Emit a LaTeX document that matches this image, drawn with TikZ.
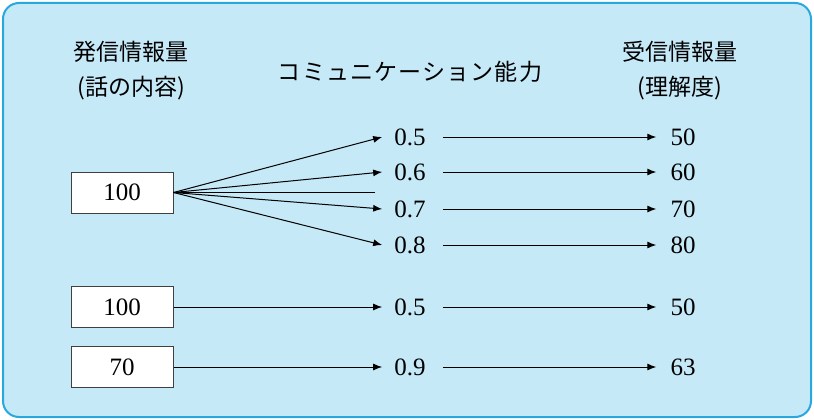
\documentclass[tikz,border=0pt]{standalone}
\usepackage{fontspec}
\setmainfont{Liberation Serif}
\newfontfamily\cjk{Noto Sans CJK JP}
\newfontfamily\cjkwide[LetterSpace=5]{Noto Sans CJK JP}
\usetikzlibrary{arrows.meta}
\definecolor{bgfill}{HTML}{C6E9F8}
\definecolor{bgline}{HTML}{29A8E0}
\begin{document}
\begin{tikzpicture}[x=1pt,y=-1pt,
  head/.style={font=\cjk\fontsize{23}{27}\selectfont, inner sep=0pt},
  valbox/.style={draw=black!75, fill=white, line width=1pt, minimum width=102pt, minimum height=41pt, inner sep=0pt, font=\fontsize{25}{29}\selectfont},
  cnum/.style={inner xsep=12pt, inner ysep=2pt, font=\fontsize{25}{29}\selectfont},
  rnum/.style={inner xsep=14pt, inner ysep=2pt, font=\fontsize{25}{29}\selectfont},
  arr/.style={line width=1pt, -{Latex[length=9pt,width=7pt]}},
  ln/.style={line width=1pt}]
\useasboundingbox (0,0) rectangle (814,420);
\draw[bgline, fill=bgfill, line width=2pt, rounded corners=16pt] (3,3) rectangle (811,417);
% headings
\node[head] (h1) at (131,52) {発信情報量};
\node[head] (h2) at (131,88) {(話の内容)};
\node[head, font=\cjkwide\fontsize{23}{27}\selectfont] (h3) at (410,72) {コミュニケーション能力};
\node[head] (h4) at (680,52) {受信情報量};
\node[head] (h5) at (680,88) {(理解度)};
% boxes
\node[valbox] (b1) at (122,192.5) {100};
\node[valbox] (b2) at (122,307) {100};
\node[valbox] (b3) at (122,367) {70};
% capability values
\node[cnum] (c1) at (410,137) {0.5};
\node[cnum] (c2) at (410,172) {0.6};
\node[cnum] (c3) at (410,209) {0.7};
\node[cnum] (c4) at (410,245) {0.8};
\node[cnum] (c5) at (410,307) {0.5};
\node[cnum] (c6) at (410,367) {0.9};
% results
\node[rnum] (r1) at (683,137) {50};
\node[rnum] (r2) at (683,172) {60};
\node[rnum] (r3) at (683,209) {70};
\node[rnum] (r4) at (683,245) {80};
\node[rnum] (r5) at (683,307) {50};
\node[rnum] (r6) at (683,367) {63};
\coordinate (m) at (375,192.5);
% fan
\draw[arr] (b1.east) -- (c1.west);
\draw[arr] (b1.east) -- (c2.west);
\draw[ln] (b1.east) -- (m);
\draw[arr] (b1.east) -- (c3.west);
\draw[arr] (b1.east) -- (c4.west);
\draw[arr] (b2.east) -- (c5.west);
\draw[arr] (b3.east) -- (c6.west);
% results arrows
\foreach \i in {1,...,6}{
  \draw[arr, shorten <=5pt] (c\i.east) -- (r\i.west);
}
\end{tikzpicture}
\end{document}
